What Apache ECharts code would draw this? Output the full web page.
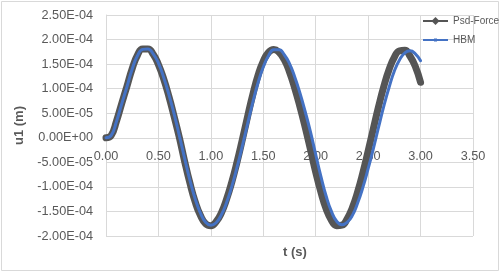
<!DOCTYPE html>
<html>
<head>
<meta charset="utf-8">
<script src="https://cdn.jsdelivr.net/npm/echarts@6/dist/echarts.min.js"></script>
<style>
html,body{margin:0;padding:0;background:#fff;}
#chart{width:500px;height:272px;}
</style>
</head>
<body>
<div id="chart"></div>
<script>
// Time (s)
const time = [0.00,0.05,0.10,0.15,0.20,0.25,0.30,0.35,0.40,0.45,0.50,0.55,0.60,0.65,0.70,0.75,0.80,0.85,0.90,0.95,
  1.00,1.05,1.10,1.15,1.20,1.25,1.30,1.35,1.40,1.45,1.50,1.55,1.60,1.65,1.70,1.75,1.80,1.85,1.90,1.95,
  2.00,2.05,2.10,2.15,2.20,2.25,2.30,2.35,2.40,2.45,2.50,2.55,2.60,2.65,2.70,2.75,2.80,2.85,2.90,2.95,3.00];

// u1 (m) - Psd-Force
const psdForce = [0,0.05e-4,0.34e-4,0.70e-4,1.05e-4,1.41e-4,1.68e-4,1.81e-4,1.81e-4,1.70e-4,
  1.49e-4,1.20e-4,0.84e-4,0.43e-4,0.00e-4,-0.48e-4,-0.92e-4,-1.30e-4,-1.58e-4,-1.75e-4,
  -1.79e-4,-1.71e-4,-1.53e-4,-1.25e-4,-0.90e-4,-0.49e-4,-0.04e-4,0.43e-4,0.88e-4,1.27e-4,
  1.56e-4,1.74e-4,1.80e-4,1.74e-4,1.59e-4,1.34e-4,1.01e-4,0.63e-4,0.21e-4,-0.24e-4,
  -0.70e-4,-1.11e-4,-1.45e-4,-1.68e-4,-1.79e-4,-1.78e-4,-1.65e-4,-1.42e-4,-1.10e-4,-0.71e-4,
  -0.27e-4,0.19e-4,0.64e-4,1.05e-4,1.39e-4,1.64e-4,1.77e-4,1.78e-4,1.66e-4,1.45e-4,1.13e-4];

// u1 (m) - HBM
const hbm = [0,0.05e-4,0.33e-4,0.69e-4,1.04e-4,1.40e-4,1.67e-4,1.80e-4,1.81e-4,1.71e-4,
  1.52e-4,1.23e-4,0.88e-4,0.48e-4,0.04e-4,-0.42e-4,-0.86e-4,-1.24e-4,-1.53e-4,-1.72e-4,
  -1.78e-4,-1.73e-4,-1.57e-4,-1.32e-4,-0.99e-4,-0.60e-4,-0.17e-4,0.28e-4,0.72e-4,1.12e-4,
  1.44e-4,1.67e-4,1.79e-4,1.79e-4,1.69e-4,1.51e-4,1.24e-4,0.91e-4,0.53e-4,0.12e-4,
  -0.34e-4,-0.79e-4,-1.19e-4,-1.50e-4,-1.70e-4,-1.77e-4,-1.72e-4,-1.58e-4,-1.33e-4,-1.01e-4,
  -0.63e-4,-0.22e-4,0.22e-4,0.65e-4,1.03e-4,1.36e-4,1.59e-4,1.73e-4,1.77e-4,1.71e-4,1.57e-4];

const seriesNames = ['Psd-Force','HBM'];
const xTitle = 't (s)';
const yTitle = 'u1 (m)';

function sci(v){
  if (Math.abs(v) < 1e-12) return '0.00E+00';
  let e = Math.floor(Math.log10(Math.abs(v)));
  let m = v / Math.pow(10, e);
  if (Math.abs(m) >= 9.995) { m /= 10; e += 1; }
  return m.toFixed(2) + 'E' + (e < 0 ? '-' : '+') + String(Math.abs(e)).padStart(2, '0');
}

const pair = (arr) => time.map((t, i) => [t, arr[i]]);
const txt = '#595959';
const grid = '#d9d9d9';
const font = 'Liberation Sans, Arial, sans-serif';
const darkCol = '#555555';
const blueCol = '#4472C4';

const chart = echarts.init(document.getElementById('chart'), null, {renderer:'canvas'});
chart.setOption({
  animation:false,
  backgroundColor:'#fff',
  textStyle:{fontFamily:font},
  graphic:[{type:'rect', shape:{x:1.5,y:1.5,width:497,height:269}, style:{fill:'none', stroke:grid, lineWidth:1}, silent:true, z:-1}],
  title:{
    text:xTitle, left:290, top:241, textAlign:'center',
    textStyle:{color:txt, fontSize:13, fontWeight:'bold', fontFamily:font}
  },
  grid:{left:106, right:27, top:15, bottom:36},
  legend:{
    orient:'vertical', left:418, top:11, itemWidth:25, itemHeight:8, itemGap:9, z:20,
    data:[
      {name:seriesNames[0], icon:'path://M0,3 L25,3 L25,5 L0,5 Z M12.5,0 L16.5,4 L12.5,8 L8.5,4 Z'},
      {name:seriesNames[1], icon:'path://M0,3 L25,3 L25,5 L0,5 Z M11,2.5 L14,2.5 L14,5.5 L11,5.5 Z'}
    ],
    textStyle:{color:txt, fontSize:10, fontFamily:font}
  },
  xAxis:{
    type:'value', min:0, max:3.5, interval:0.5, position:'bottom', offset:0, z:0,
    axisLine:{show:true, onZero:false, lineStyle:{color:grid}},
    axisTick:{show:false},
    axisLabel:{color:txt, fontSize:12.7, margin:12, formatter:(v)=>v.toFixed(2)},
    splitLine:{show:true, lineStyle:{color:grid}}
  },
  yAxis:{
    type:'value', min:-2e-4, max:2.5e-4, interval:5e-5, z:0,
    axisLine:{show:true, onZero:false, lineStyle:{color:grid}},
    axisTick:{show:false},
    axisLabel:{color:txt, fontSize:12.7, margin:13, formatter:sci},
    splitLine:{show:true, lineStyle:{color:grid}},
    name:yTitle, nameLocation:'middle', nameGap:76, nameRotate:90,
    nameTextStyle:{color:txt, fontSize:13, fontWeight:'bold', fontFamily:font}
  },
  series:[{
    name:seriesNames[0], type:'line', data:pair(psdForce), smooth:true,
    symbol:'diamond', symbolSize:8, showSymbol:false,
    lineStyle:{color:darkCol, width:7, cap:'round', join:'round'},
    itemStyle:{color:darkCol}, z:10
  },{
    name:seriesNames[1], type:'line', data:pair(hbm), smooth:true,
    symbol:'circle', symbolSize:4, showSymbol:false,
    lineStyle:{color:blueCol, width:3, cap:'round', join:'round'},
    itemStyle:{color:blueCol}, z:11
  }]
});
// Put the horizontal axis (line + labels) at u1 = 0, as in the original chart
const zeroY = chart.convertToPixel({yAxisIndex:0}, 0);
const bottomY = chart.convertToPixel({yAxisIndex:0}, -2e-4);
chart.setOption({xAxis:{offset: zeroY - bottomY}});
</script>
</body>
</html>
